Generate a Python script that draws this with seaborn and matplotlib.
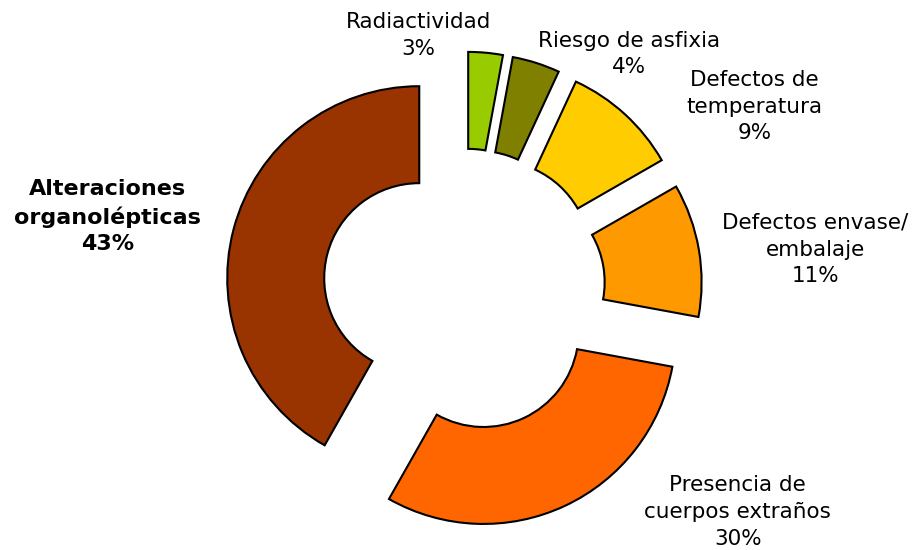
import seaborn as sns
import matplotlib
matplotlib.use("Agg")
import matplotlib.pyplot as plt

# data, clockwise from 12 o'clock
categories = ["Radiactividad", "Riesgo de asfixia", "Defectos de\ntemperatura",
              "Defectos envase/\nembalaje", "Presencia de\ncuerpos extraños",
              "Alteraciones\norganolépticas"]
# wedge sizes
slice_sizes = [2.9, 4.0, 9.8, 11.2, 30.3, 41.8]
# percentages printed in the labels
pct_labels = [3, 4, 9, 11, 30, 43]
colors = ["#99CC00", "#808000", "#FFCC00", "#FF9900", "#FF6600", "#993300"]

# label centre points in axes fraction
label_pos = [(0.454, 0.936), (0.683, 0.902), (0.819, 0.806),
             (0.885, 0.546), (0.801, 0.069), (0.117, 0.606)]

sns.set_theme(style="white")
plt.rcParams["font.family"] = ["DejaVu Sans"]

fig = plt.figure(figsize=(9.21, 5.5), dpi=100)
ax = fig.add_axes([0, 0, 1, 1])

ax.pie(slice_sizes, colors=colors, startangle=90, counterclock=False,
       explode=[0.241] * len(slice_sizes), radius=1.0,
       wedgeprops=dict(width=0.505, edgecolor="black", linewidth=1.5))

# centre of the ring at pixel (464, 290), outer radius 192 px
ax.set_xlim(-464 / 192, (921 - 464) / 192)
ax.set_ylim((290 - 550) / 192, 290 / 192)
ax.set_aspect("equal", adjustable="datalim")
ax.axis("off")

for i, (cat, pct) in enumerate(zip(categories, pct_labels)):
    bold = i == len(categories) - 1
    ax.text(label_pos[i][0], label_pos[i][1], f"{cat}\n{pct}%",
            transform=ax.transAxes, ha="center", va="center",
            fontsize=16 if bold else 15.5, linespacing=1.42,
            fontweight="bold" if bold else "normal", color="black")

fig.savefig("out.png", dpi=100, facecolor="white")
